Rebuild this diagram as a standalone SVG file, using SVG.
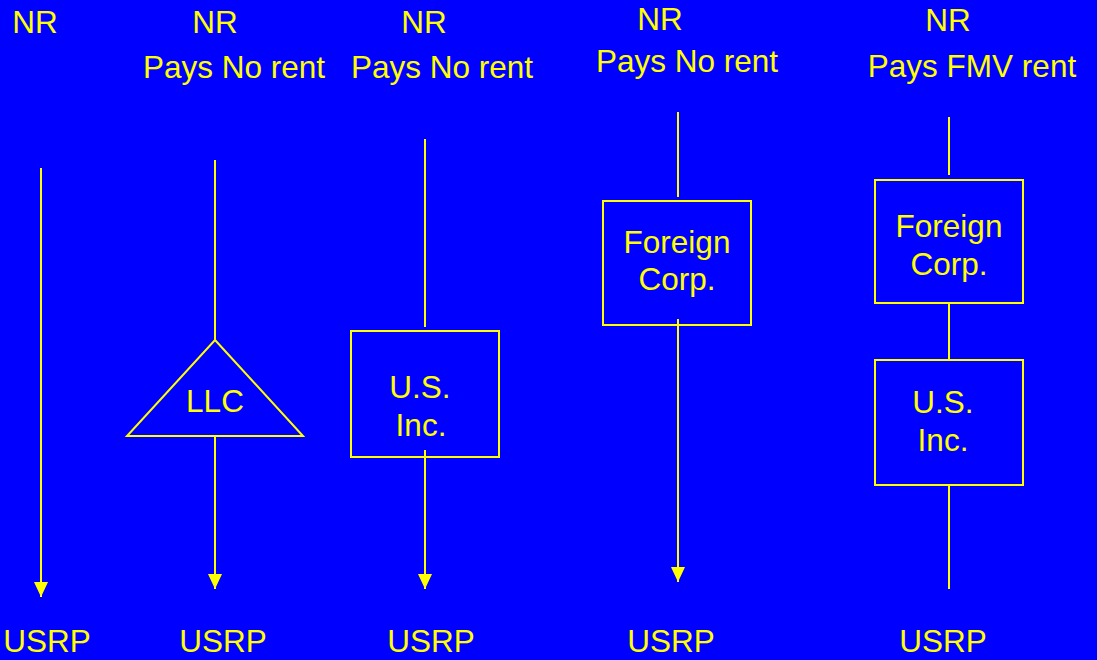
<svg xmlns="http://www.w3.org/2000/svg" width="1097" height="660" viewBox="0 0 1097 660">
<defs>
<style>
text{font-family:"Liberation Sans",Arial,sans-serif;font-size:31.5px;fill:#FFFF00;text-anchor:middle}
.s{fill:none;stroke:#FFFF00;stroke-width:2}
</style>
<marker id="ah" markerWidth="8" markerHeight="7" refX="7.5" refY="3.5" orient="auto" markerUnits="strokeWidth">
<path d="M0,0 L7.5,3.5 L0,7 Z" fill="#FFFF00"/>
</marker>
</defs>
<rect width="1097" height="660" fill="#0000FF"/>
<g id="labels">
<text x="35" y="33">NR</text>
<text x="215" y="33">NR</text>
<text x="234" y="78">Pays No rent</text>
<text x="424" y="33">NR</text>
<text x="442" y="78">Pays No rent</text>
<text x="660" y="30">NR</text>
<text x="687" y="72">Pays No rent</text>
<text x="948" y="31">NR</text>
<text x="972" y="77">Pays FMV rent</text>
<text x="47" y="652">USRP</text>
<text x="223" y="652">USRP</text>
<text x="431" y="652">USRP</text>
<text x="671" y="652">USRP</text>
<text x="943" y="652">USRP</text>
</g>
<g id="connectors">
<line class="s" x1="41" y1="168" x2="41" y2="597" marker-end="url(#ah)"/>
<line class="s" x1="215" y1="160" x2="215" y2="340"/>
<line class="s" x1="215" y1="436" x2="215" y2="589" marker-end="url(#ah)"/>
<line class="s" x1="425" y1="139" x2="425" y2="327"/>
<line class="s" x1="425" y1="450" x2="425" y2="589" marker-end="url(#ah)"/>
<line class="s" x1="678" y1="112" x2="678" y2="197"/>
<line class="s" x1="678" y1="319" x2="678" y2="582" marker-end="url(#ah)"/>
<line class="s" x1="949" y1="117" x2="949" y2="175"/>
<line class="s" x1="949" y1="304" x2="949" y2="360"/>
<line class="s" x1="949" y1="485" x2="949" y2="589"/>
</g>
<g id="llc">
<polygon class="s" points="215,340 303,436 127,436"/>
<text x="215" y="412">LLC</text>
</g>
<g id="us-inc-1">
<rect class="s" x="351" y="331" width="148" height="126"/>
<text x="420" y="398">U.S.</text>
<text x="421" y="436">Inc.</text>
</g>
<g id="foreign-corp-1">
<rect class="s" x="603" y="201" width="148" height="124"/>
<text x="677" y="253">Foreign</text>
<text x="677" y="290">Corp.</text>
</g>
<g id="foreign-corp-2">
<rect class="s" x="875" y="180" width="148" height="123"/>
<text x="949" y="237">Foreign</text>
<text x="949" y="275">Corp.</text>
</g>
<g id="us-inc-2">
<rect class="s" x="875" y="360" width="148" height="125"/>
<text x="943" y="413">U.S.</text>
<text x="943" y="451">Inc.</text>
</g>
</svg>
